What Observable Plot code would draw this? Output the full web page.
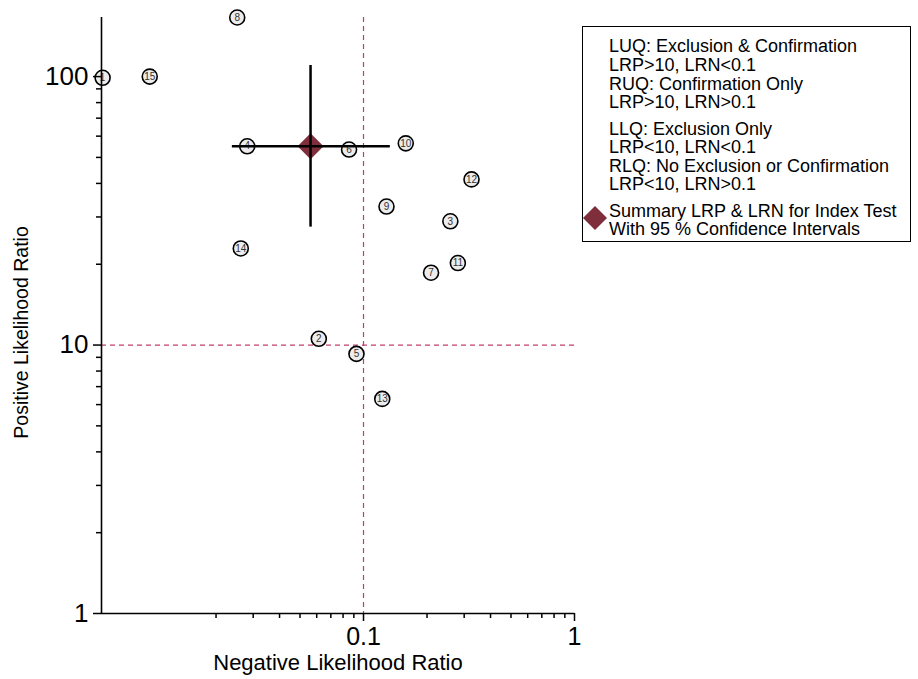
<!DOCTYPE html>
<html>
<head>
<meta charset="utf-8">
<script src="https://cdn.jsdelivr.net/npm/d3@7"></script>
<script src="https://cdn.jsdelivr.net/npm/@observablehq/plot@0.6"></script>
<style>
  html, body { margin: 0; padding: 0; background: #fff; }
  #wrap { position: relative; width: 918px; height: 679px; font-family: "Liberation Sans", Arial, sans-serif; }
  #legend { position: absolute; left: 582px; top: 26px; width: 329px; height: 216px; border: 1.5px solid #000; box-sizing: border-box; background: #fff; }
  #legend .ln { position: absolute; left: 26px; font-size: 18px; line-height: 18px; white-space: nowrap; color: #000; }
  #legend svg { position: absolute; left: -1px; top: 178px; }
</style>
</head>
<body>
<div id="wrap"></div>
<script>
// ---- Data ----
const studyIds = [1, 2, 3, 4, 5, 6, 7, 8, 9, 10, 11, 12, 13, 14, 15];
const studyLRN = [0.0058, 0.0614, 0.258, 0.0281, 0.0926, 0.0854, 0.209, 0.0252, 0.1285, 0.1586, 0.280, 0.325, 0.1227, 0.0262, 0.0097];
const studyLRP = [99, 10.55, 28.9, 55.0, 9.27, 53.5, 18.6, 166, 32.8, 56.4, 20.2, 41.4, 6.30, 22.9, 100];

const summaryLRN = [0.0561];
const summaryLRP = [55.0];
const summaryLRNci = [0.0239, 0.134];
const summaryLRPci = [27.5, 110];

const refLRN = [0.1];
const refLRP = [10];

const xMajorTicks = [0.1, 1];
const xMinorTicks = [0.02, 0.03, 0.04, 0.05, 0.06, 0.07, 0.08, 0.09, 0.2, 0.3, 0.4, 0.5, 0.6, 0.7, 0.8, 0.9];
const yMajorTicks = [1, 10, 100];
const yMinorTicks = [2, 3, 4, 5, 6, 7, 8, 9, 20, 30, 40, 50, 60, 70, 80, 90];
const xTickLabels = ["0.1", "1"];
const yTickLabels = ["1", "10", "100"];

const xDomain = [0.00573, 1];
const yDomain = [1, 166];

const xTitle = "Negative Likelihood Ratio";
const yTitle = "Positive Likelihood Ratio";

const legendLines = [
  "LUQ: Exclusion & Confirmation",
  "LRP>10, LRN<0.1",
  "RUQ: Confirmation Only",
  "LRP>10, LRN>0.1",
  "LLQ: Exclusion Only",
  "LRP<10, LRN<0.1",
  "RLQ: No Exclusion or Confirmation",
  "LRP<10, LRN>0.1",
  "Summary LRP & LRN for Index Test",
  "With 95 % Confidence Intervals"
];

// ---- Build ----
const studies = studyIds.map((id, i) => ({id, lrn: studyLRN[i], lrp: studyLRP[i]}));
const summary = [{lrn: summaryLRN[0], lrp: summaryLRP[0], lrnLo: summaryLRNci[0], lrnHi: summaryLRNci[1], lrpLo: summaryLRPci[0], lrpHi: summaryLRPci[1]}];

const refColor = "#bf3f6c";
const diamondColor = "#7f2f3c";
const font = "Liberation Sans, Arial, sans-serif";

const chart = Plot.plot({
  width: 918,
  height: 679,
  marginLeft: 101,
  marginRight: 344,
  marginTop: 17,
  marginBottom: 66,
  style: {fontFamily: font, fontSize: "25px", color: "#000", background: "transparent"},
  x: {type: "log", domain: xDomain, label: null},
  y: {type: "log", domain: yDomain, label: null},
  marks: [
    Plot.ruleX(refLRN, {stroke: refColor, strokeWidth: 1.2, strokeDasharray: "5,4"}),
    Plot.ruleY(refLRP, {stroke: refColor, strokeWidth: 1.2, strokeDasharray: "5,4"}),
    Plot.dot(studies, {x: "lrn", y: "lrp", r: 7.5, fill: "#ececec", stroke: "#000", strokeWidth: 1.6}),
    Plot.text(studies, {x: "lrn", y: "lrp", text: "id", fontSize: 10, fill: "#333", fontFamily: font}),
    Plot.dot(summary, {x: "lrn", y: "lrp", symbol: "diamond2", r: 11.7, fill: diamondColor, stroke: "none"}),
    Plot.ruleX(summary, {x: "lrn", y1: "lrpLo", y2: "lrpHi", stroke: "#000", strokeWidth: 2.5}),
    Plot.ruleY(summary, {y: "lrp", x1: "lrnLo", x2: "lrnHi", stroke: "#000", strokeWidth: 2.5}),
    Plot.ruleX([xDomain[0]], {stroke: "#000", strokeWidth: 1.6}),
    Plot.ruleY([yDomain[0]], {stroke: "#000", strokeWidth: 1.6}),
    Plot.axisX({ticks: xMinorTicks, tickSize: 5, tickFormat: () => "", strokeWidth: 1.5, label: null}),
    Plot.axisX({ticks: xMajorTicks, tickSize: 8, tickPadding: 6, strokeWidth: 1.5, label: null,
      tickFormat: d => xTickLabels[xMajorTicks.indexOf(d)], fontSize: 25}),
    Plot.axisY({ticks: yMinorTicks, tickSize: 5, tickFormat: () => "", strokeWidth: 1.5, label: null}),
    Plot.axisY({ticks: yMajorTicks, tickSize: 8, tickPadding: 5, strokeWidth: 1.5, label: null,
      tickFormat: d => yTickLabels[yMajorTicks.indexOf(d)], fontSize: 26}),
    Plot.text([xTitle], {frameAnchor: "bottom", dy: 56, fontSize: 22, fontFamily: font, fill: "#000"}),
    Plot.text([yTitle], {frameAnchor: "left", textAnchor: "middle", dx: -80, dy: 17, rotate: -90, fontSize: 19.5, fontFamily: font, fill: "#000"})
  ]
});

const wrap = document.getElementById("wrap");
wrap.appendChild(chart);

// Legend box
const legend = document.createElement("div");
legend.id = "legend";
const centers = [19, 38, 56.5, 75, 101.5, 120, 138.5, 157, 183.5, 202];
legendLines.forEach((t, i) => {
  const d = document.createElement("div");
  d.className = "ln";
  d.style.top = (centers[i] - 9) + "px";
  d.textContent = t;
  legend.appendChild(d);
});
const ns = "http://www.w3.org/2000/svg";
const s = document.createElementNS(ns, "svg");
s.setAttribute("width", 26); s.setAttribute("height", 26);
s.setAttribute("viewBox", "0 0 26 26");
const p = document.createElementNS(ns, "path");
p.setAttribute("d", "M13,1 L25,13 L13,25 L1,13 Z");
p.setAttribute("fill", diamondColor);
s.appendChild(p);
legend.appendChild(s);
wrap.appendChild(legend);
</script>
</body>
</html>
